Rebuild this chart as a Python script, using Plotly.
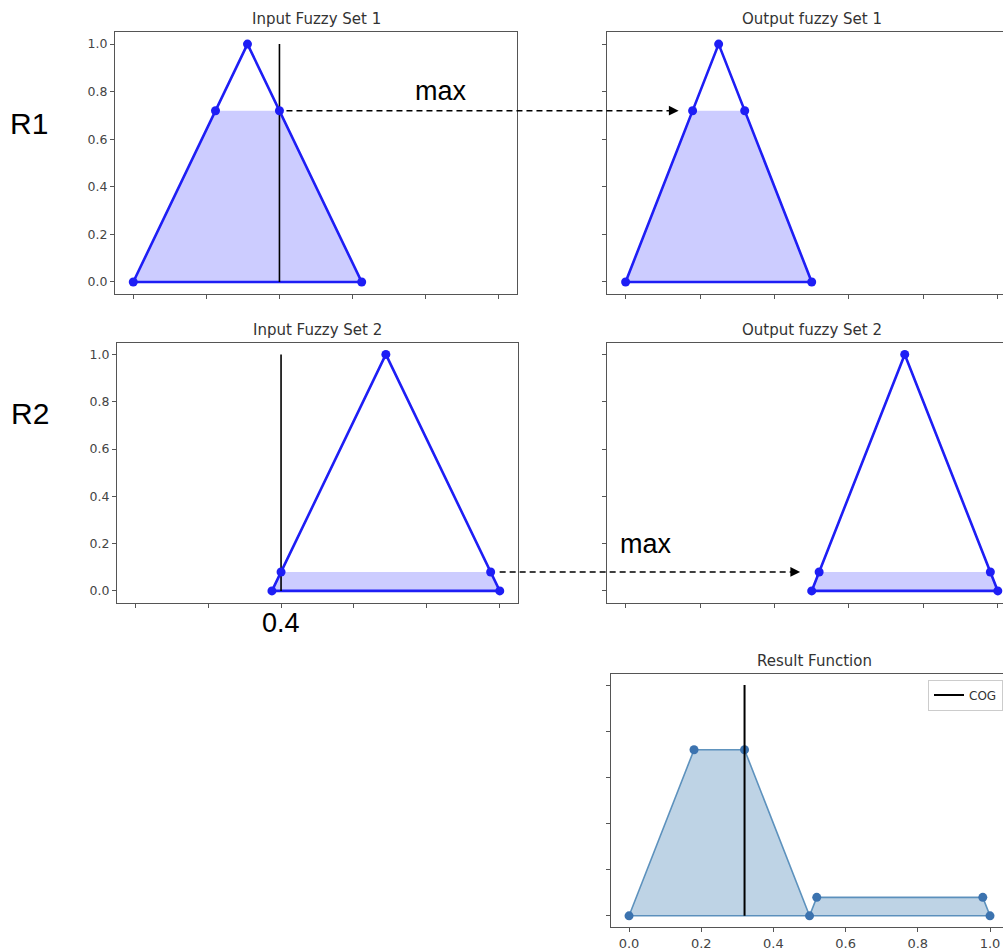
import plotly.graph_objects as go

# ---------------- data ----------------
tick_vals = [0.0, 0.2, 0.4, 0.6, 0.8, 1.0]
tick_text = ["0.0", "0.2", "0.4", "0.6", "0.8", "1.0"]

input_value = 0.4
cut1 = 0.72
cut2 = 0.08
cog_value = 0.32

# Input fuzzy set 1
in1_tri_x = [0.0, 0.3125, 0.625, 0.0]
in1_tri_y = [0.0, 1.0, 0.0, 0.0]
in1_fill_x = [0.0, 0.225, 0.4, 0.625]
in1_fill_y = [0.0, 0.72, 0.72, 0.0]
in1_pts_x = [0.0, 0.225, 0.3125, 0.4, 0.625]
in1_pts_y = [0.0, 0.72, 1.0, 0.72, 0.0]

# Output fuzzy set 1
out1_tri_x = [0.0, 0.25, 0.5, 0.0]
out1_tri_y = [0.0, 1.0, 0.0, 0.0]
out1_fill_x = [0.0, 0.18, 0.32, 0.5]
out1_fill_y = [0.0, 0.72, 0.72, 0.0]
out1_pts_x = [0.0, 0.18, 0.25, 0.32, 0.5]
out1_pts_y = [0.0, 0.72, 1.0, 0.72, 0.0]

# Input fuzzy set 2
in2_tri_x = [0.375, 0.6875, 1.0, 0.375]
in2_tri_y = [0.0, 1.0, 0.0, 0.0]
in2_fill_x = [0.375, 0.4, 0.975, 1.0]
in2_fill_y = [0.0, 0.08, 0.08, 0.0]
in2_pts_x = [0.375, 0.4, 0.6875, 0.975, 1.0]
in2_pts_y = [0.0, 0.08, 1.0, 0.08, 0.0]

# Output fuzzy set 2
out2_tri_x = [0.5, 0.75, 1.0, 0.5]
out2_tri_y = [0.0, 1.0, 0.0, 0.0]
out2_fill_x = [0.5, 0.52, 0.98, 1.0]
out2_fill_y = [0.0, 0.08, 0.08, 0.0]
out2_pts_x = [0.5, 0.52, 0.75, 0.98, 1.0]
out2_pts_y = [0.0, 0.08, 1.0, 0.08, 0.0]

# Result function
res_x = [0.0, 0.18, 0.32, 0.5, 0.52, 0.98, 1.0, 0.0]
res_y = [0.0, 0.72, 0.72, 0.0, 0.08, 0.08, 0.0, 0.0]
res_pts_x = [0.0, 0.18, 0.32, 0.5, 0.52, 0.98, 1.0]
res_pts_y = [0.0, 0.72, 0.72, 0.0, 0.08, 0.08, 0.0]

titles = ["Input Fuzzy Set 1", "Output fuzzy Set 1", "Input Fuzzy Set 2",
          "Output fuzzy Set 2", "Result Function"]

# ---------------- layout geometry ----------------
W, H = 1003, 951
def px_x(p):
    return p / W
def px_y(p):
    return 1 - p / H

YR = [-0.05, 1.05]
panels = {
    1: dict(xd=[px_x(115), px_x(517)], xr=[-0.05, 1.05], yd=[px_y(294.5), px_y(32.3)], title_y=19.5, full=True),
    2: dict(xd=[px_x(607), 1.0], xr=[-0.05, 1.014], yd=[px_y(294.5), px_y(32.3)], title_y=19.5, full=False),
    3: dict(xd=[px_x(117), px_x(518)], xr=[-0.05, 1.05], yd=[px_y(604), px_y(343.3)], title_y=331, full=True),
    4: dict(xd=[px_x(607), 1.0], xr=[-0.05, 1.014], yd=[px_y(604), px_y(343.3)], title_y=331, full=False),
    5: dict(xd=[px_x(611), 1.0], xr=[-0.05, 1.036], yd=[px_y(929.3), px_y(675)], title_y=662, full=False),
}
title_centers = {1: 316, 2: 811.5, 3: 317.5, 4: 811.5, 5: 814}

def to_paper(k, xv, yv):
    p = panels[k]
    fx = p["xd"][0] + (xv - p["xr"][0]) / (p["xr"][1] - p["xr"][0]) * (p["xd"][1] - p["xd"][0])
    fy = p["yd"][0] + (yv - YR[0]) / (YR[1] - YR[0]) * (p["yd"][1] - p["yd"][0])
    return fx, fy

BLUE = "rgb(30,30,245)"
BLUE_FILL = "rgba(0,0,255,0.2)"
STEEL_LINE = "rgba(70,130,180,0.85)"
STEEL_MARK = "rgb(60,115,175)"
STEEL_FILL = "rgba(70,130,180,0.35)"

fig = go.Figure()

def ax(k):
    return ("x" if k == 1 else f"x{k}"), ("y" if k == 1 else f"y{k}")

def add_set(k, tri_x, tri_y, fill_x, fill_y, pts_x, pts_y, vline=None):
    xa, ya = ax(k)
    fig.add_trace(go.Scatter(x=fill_x, y=fill_y, fill="toself", fillcolor=BLUE_FILL,
                             mode="none", xaxis=xa, yaxis=ya, showlegend=False, hoverinfo="skip"))
    fig.add_trace(go.Scatter(x=tri_x, y=tri_y, mode="lines", line=dict(color=BLUE, width=2.6),
                             xaxis=xa, yaxis=ya, showlegend=False))
    if vline is not None:
        fig.add_trace(go.Scatter(x=[vline, vline], y=[0, 1], mode="lines",
                                 line=dict(color="black", width=1.6),
                                 xaxis=xa, yaxis=ya, showlegend=False))
    fig.add_trace(go.Scatter(x=pts_x, y=pts_y, mode="markers",
                             marker=dict(color=BLUE, size=9),
                             xaxis=xa, yaxis=ya, showlegend=False))

add_set(1, in1_tri_x, in1_tri_y, in1_fill_x, in1_fill_y, in1_pts_x, in1_pts_y, vline=input_value)
add_set(2, out1_tri_x, out1_tri_y, out1_fill_x, out1_fill_y, out1_pts_x, out1_pts_y)
add_set(3, in2_tri_x, in2_tri_y, in2_fill_x, in2_fill_y, in2_pts_x, in2_pts_y, vline=input_value)
add_set(4, out2_tri_x, out2_tri_y, out2_fill_x, out2_fill_y, out2_pts_x, out2_pts_y)

# Result function
fig.add_trace(go.Scatter(x=res_x, y=res_y, fill="toself", fillcolor=STEEL_FILL,
                         mode="lines", line=dict(color=STEEL_LINE, width=1.6),
                         xaxis="x5", yaxis="y5", showlegend=False))
fig.add_trace(go.Scatter(x=res_pts_x, y=res_pts_y, mode="markers",
                         marker=dict(color=STEEL_MARK, size=9),
                         xaxis="x5", yaxis="y5", showlegend=False))
fig.add_trace(go.Scatter(x=[cog_value, cog_value], y=[0, 1], mode="lines", name="COG",
                         line=dict(color="black", width=2),
                         xaxis="x5", yaxis="y5", showlegend=True))

AXC = "#555555"
layout = dict(width=W, height=H, margin=dict(l=0, r=0, t=0, b=0),
              paper_bgcolor="white", plot_bgcolor="white",
              font=dict(family="DejaVu Sans", size=12, color="#444"))
for k, p in panels.items():
    xa, ya = ax(k)
    xkey = "xaxis" if k == 1 else f"xaxis{k}"
    ykey = "yaxis" if k == 1 else f"yaxis{k}"
    layout[xkey] = dict(domain=p["xd"], range=p["xr"], anchor=ya, showgrid=False, zeroline=False,
                        showline=True, mirror=True, linecolor=AXC, linewidth=1.2,
                        ticks="outside", ticklen=4, tickwidth=1, tickcolor=AXC,
                        tickvals=tick_vals, ticktext=tick_text,
                        showticklabels=(k == 5), tickfont=dict(size=13, color="#444"),
                        fixedrange=True)
    layout[ykey] = dict(domain=p["yd"], range=YR, anchor=xa, showgrid=False, zeroline=False,
                        showline=True, mirror=p["full"], linecolor=AXC, linewidth=1.2,
                        ticks="outside", ticklen=4, tickwidth=1, tickcolor=AXC,
                        tickvals=tick_vals, ticktext=tick_text,
                        showticklabels=(k in (1, 3)), tickfont=dict(size=12.5, color="#444"),
                        fixedrange=True)

annotations = []
for k in panels:
    annotations.append(dict(text=titles[k - 1], x=px_x(title_centers[k]), y=px_y(panels[k]["title_y"]),
                            xref="paper", yref="paper", showarrow=False, xanchor="center", yanchor="middle",
                            font=dict(family="DejaVu Sans", size=15, color="#333")))

big = dict(family="Liberation Sans, Arial", color="black")
def label(text, cx, cy, size):
    return dict(text=text, x=px_x(cx), y=px_y(cy), xref="paper", yref="paper", showarrow=False,
                xanchor="center", yanchor="middle", font=dict(size=size, **big))

annotations += [
    label("R1", 29, 124, 30),
    label("R2", 30, 414, 30),
    label("max", 441, 91, 27),
    label("max", 646, 545, 27),
    label("0.4", 281, 624, 27),
]

# dashed "max" arrows between input and output sets
shapes = []
arrows = [
    (1, input_value, cut1, 2, out1_pts_x[1], cut1, 7, 14),
    (3, in2_pts_x[3], cut2, 4, out2_pts_x[1], cut2, 9, 19),
]
for ka, xa_, ya_, kb, xb_, yb_, shrink_a, shrink_b in arrows:
    sx, sy = to_paper(ka, xa_, ya_)
    ex, ey = to_paper(kb, xb_, yb_)
    sx += shrink_a / W
    ex -= shrink_b / W
    shapes.append(dict(type="line", xref="paper", yref="paper", x0=sx, y0=sy, x1=ex - 8 / W, y1=ey,
                       line=dict(color="black", width=1.5, dash="6px,4px")))
    annotations.append(dict(text="", x=ex, y=ey, xref="paper", yref="paper", showarrow=True,
                            ax=-10, ay=0, arrowhead=2, arrowsize=1.3, arrowwidth=1.5,
                            arrowcolor="black", standoff=0))

layout["annotations"] = annotations
layout["shapes"] = shapes
layout["legend"] = dict(x=1.0, xanchor="right", y=px_y(681), yanchor="top",
                        bgcolor="white", bordercolor="#cccccc", borderwidth=1,
                        font=dict(family="DejaVu Sans", size=12, color="#333"),
                        itemwidth=30, tracegroupgap=0)
layout["showlegend"] = True
fig.update_layout(**layout)

fig.write_html("out.html", config=dict(displayModeBar=False),
               post_script="document.body.style.margin='0px';document.body.style.overflow='hidden';")
